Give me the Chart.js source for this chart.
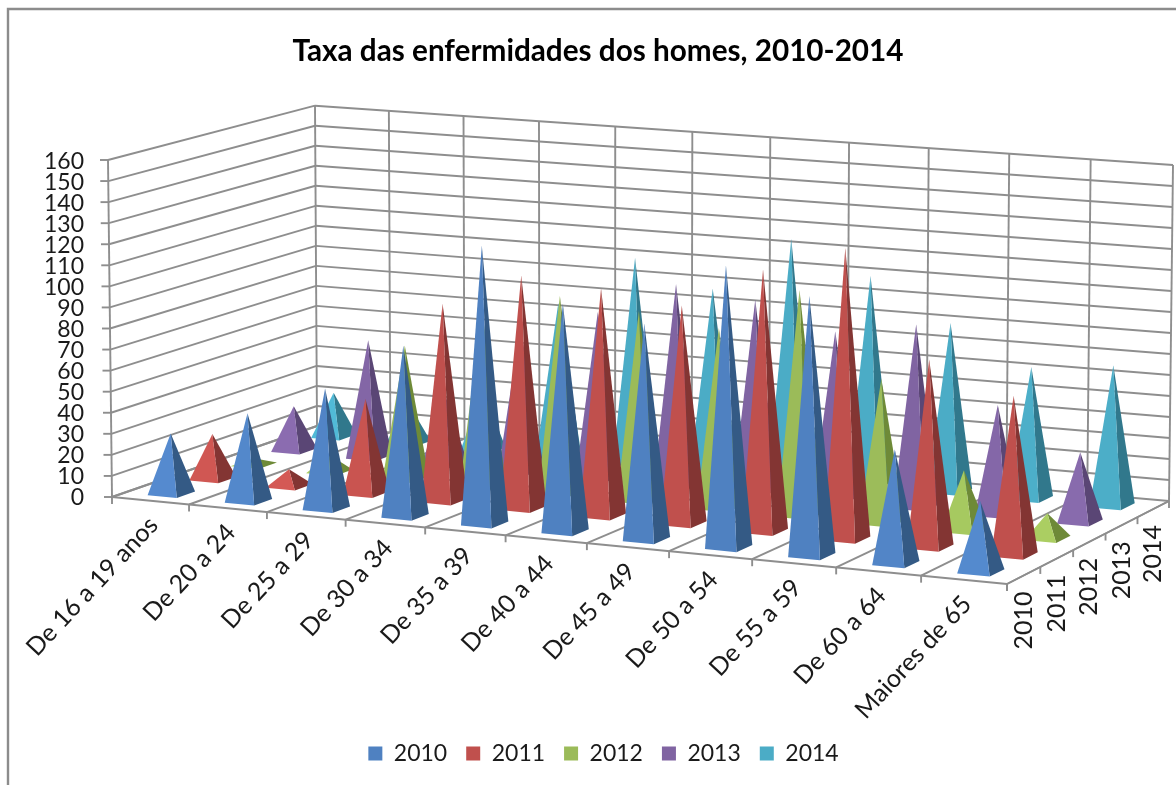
<!DOCTYPE html>
<html><head><meta charset="utf-8">
<style>html,body{margin:0;padding:0;background:#fff}canvas{display:block}</style>
<script src="https://cdn.jsdelivr.net/npm/chart.js@4"></script>
</head><body><canvas id="c" width="1176" height="785"></canvas>
<script>
const categories=["De 16 a 19 anos","De 20 a 24","De 25 a 29","De 30 a 34","De 35 a 39","De 40 a 44","De 45 a 49","De 50 a 54","De 55 a 59","De 60 a 64","Maiores de 65"];
const seriesNames=["2010","2011","2012","2013","2014"];
const v2010=[28.5,41.5,56.5,80,130,106,100,130,119,52,32];
const v2011=[21.5,8,45,93.5,110,107,102,122,135,86.5,73];
const v2012=[3,8,64,85,94,90,85,106,67.5,28,11.5];
const v2013=[21.5,57,35,70,80,96.5,92,80,86.5,51.5,32.5];
const v2014=[21.5,20,30,75,100,88,115,100,80.5,62.5,66.5];
const seriesValues=[v2010,v2011,v2012,v2013,v2014];
const frontRGB=[[79,129,193],[192,80,77],[155,187,89],[128,100,162],[75,172,198]];
const sideColors=["#345A85","#833533","#6E8A38","#5A4675","#31788C"];
const frontColors=frontRGB.map(c=>`rgb(${c.join(',')})`);

// Corners of the 3D box in the picture: floor and ceiling planes
const floorC=[[112,497],[1007,584],[1169,501],[317,426]];
const topC=[[108,160],[1003,230],[1173,165],[315,105.7]];
const warpU=0.058,warpV=0.035;
const wu=u=>u*(1-warpU)/(1-warpU*u);
const wv=v=>v*(1+warpV)/(1+warpV*v);
function bil(q,u,v){
  const a=wu(u),b=wv(v);
  return [0,1].map(k=>(1-b)*((1-a)*q[0][k]+a*q[1][k])+b*((1-a)*q[3][k]+a*q[2][k]));
}
function P(u,v,z){const a=bil(floorC,u,v),b=bil(topC,u,v);return [a[0]+(b[0]-a[0])*z,a[1]+(b[1]-a[1])*z];}
function line(ctx,a,b){ctx.beginPath();ctx.moveTo(a[0],a[1]);ctx.lineTo(b[0],b[1]);ctx.stroke();}
function poly(ctx,pts,fill){ctx.fillStyle=fill;ctx.beginPath();pts.forEach((p,i)=>i?ctx.lineTo(p[0],p[1]):ctx.moveTo(p[0],p[1]));ctx.closePath();ctx.fill();}
function shade(rgb,z){
  const g=0.12*Math.max(0,1-z/0.45);
  return `rgb(${rgb.map(c=>Math.min(255,Math.round(c*(1+g)))).join(',')})`;
}
const labelFont='25px Lato';
const box3d={id:'box3d',
 afterLayout(chart){chart.legend.left+=5.5;chart.legend.right+=5.5;},
 beforeDatasetsDraw(chart){
  const ctx=chart.ctx,xs=chart.scales.x,ys=chart.scales.y;
  const zOf=v=>(ys.bottom-ys.getPixelForValue(v))/(ys.bottom-ys.top);
  const uOf=i=>(xs.getPixelForValue(i)-xs.left)/xs.width;
  const nC=categories.length,nS=seriesNames.length;
  const du=1/nC,dv=1/nS;
  ctx.save();
  // chart frame
  ctx.strokeStyle='#8c8c8c';ctx.lineWidth=2.4;
  ctx.beginPath();ctx.moveTo(8,785);ctx.lineTo(8,9);ctx.lineTo(1176,9);ctx.stroke();
  // grid
  ctx.strokeStyle='#8e8e8e';ctx.lineWidth=1.9;
  ys.ticks.forEach(t=>{
    const z=zOf(t.value);
    const a=P(0,0,z),b=P(0,1,z),c=P(1,1,z);
    line(ctx,a,b);line(ctx,b,c);
    line(ctx,a,[a[0]-8,a[1]]);
  });
  line(ctx,P(0,0,0),P(0,0,1));
  for(let i=0;i<=nC;i++){
    const u=i*du;
    line(ctx,P(u,1,0),P(u,1,1));
    const f=P(u,0,0);
    line(ctx,f,P(u,1,0));
    line(ctx,f,[f[0],f[1]+7]);
  }
  line(ctx,P(0,0,0),P(1,0,0));
  line(ctx,P(1,0,0),P(1,1,0));
  for(let s=0;s<=nS;s++){const f=P(1,s*dv,0);line(ctx,f,[f[0],f[1]+7]);}
  // pyramids, far to near
  const hu=0.19*du,hv=0.22*dv;
  for(let s=nS-1;s>=0;s--){
    const vals=chart.data.datasets[s].data;
    const vc=(s+0.5)*dv;
    for(let i=0;i<nC;i++){
      const uc=uOf(i),z=zOf(vals[i]),apex=P(uc,vc,z);
      const fl=P(uc-hu,vc-hv,0),fr=P(uc+hu,vc-hv,0),br=P(uc+hu,vc+hv,0);
      poly(ctx,[fr,br,apex],sideColors[s]);
      poly(ctx,[fl,fr,apex],shade(frontRGB[s],z));
    }
  }
  // axis texts
  ctx.fillStyle='#1a1a1a';ctx.font=labelFont;ctx.textBaseline='middle';
  ctx.textAlign='right';
  categories.forEach((t,i)=>{
    const f=P(uOf(i),0,0);
    ctx.save();ctx.translate(f[0]+3,f[1]+20);ctx.rotate(-47*Math.PI/180);ctx.fillText(t,0,0);ctx.restore();
  });
  seriesNames.forEach((t,s)=>{
    const f=P(1,(s+0.5)*dv,0);
    ctx.save();ctx.translate(f[0],f[1]+16);ctx.rotate(-Math.PI/2);ctx.fillText(t,0,0);ctx.restore();
  });
  ctx.restore();
  return false;
 }};
new Chart(document.getElementById('c'),{
 type:'bar',
 data:{labels:categories,datasets:seriesNames.map((n,s)=>({label:n,data:seriesValues[s],backgroundColor:frontColors[s],borderWidth:0}))},
 options:{responsive:false,animation:false,
  layout:{padding:{left:20,bottom:10,right:0,top:0}},
  plugins:{
   title:{display:true,text:"Taxa das enfermidades dos homes, 2010-2014",color:'#000',font:{family:'Lato',size:29.7,weight:'bold'},padding:{top:34,bottom:92.4}},
   legend:{position:'bottom',labels:{font:{family:'Lato',size:23},color:'#1a1a1a',boxWidth:14,boxHeight:14,padding:19}},
   tooltip:{enabled:false}
  },
  scales:{
   x:{ticks:{display:false},grid:{display:false},border:{display:false},afterFit(s){s.height=225;}},
   y:{min:0,max:160,ticks:{stepSize:10,font:{family:'Lato',size:23},color:'#1a1a1a',padding:24,autoSkip:false},
      grid:{display:false,drawTicks:false},border:{display:false},afterFit(s){s.width=88;}}
  }
 },
 plugins:[box3d]
});
</script></body></html>
